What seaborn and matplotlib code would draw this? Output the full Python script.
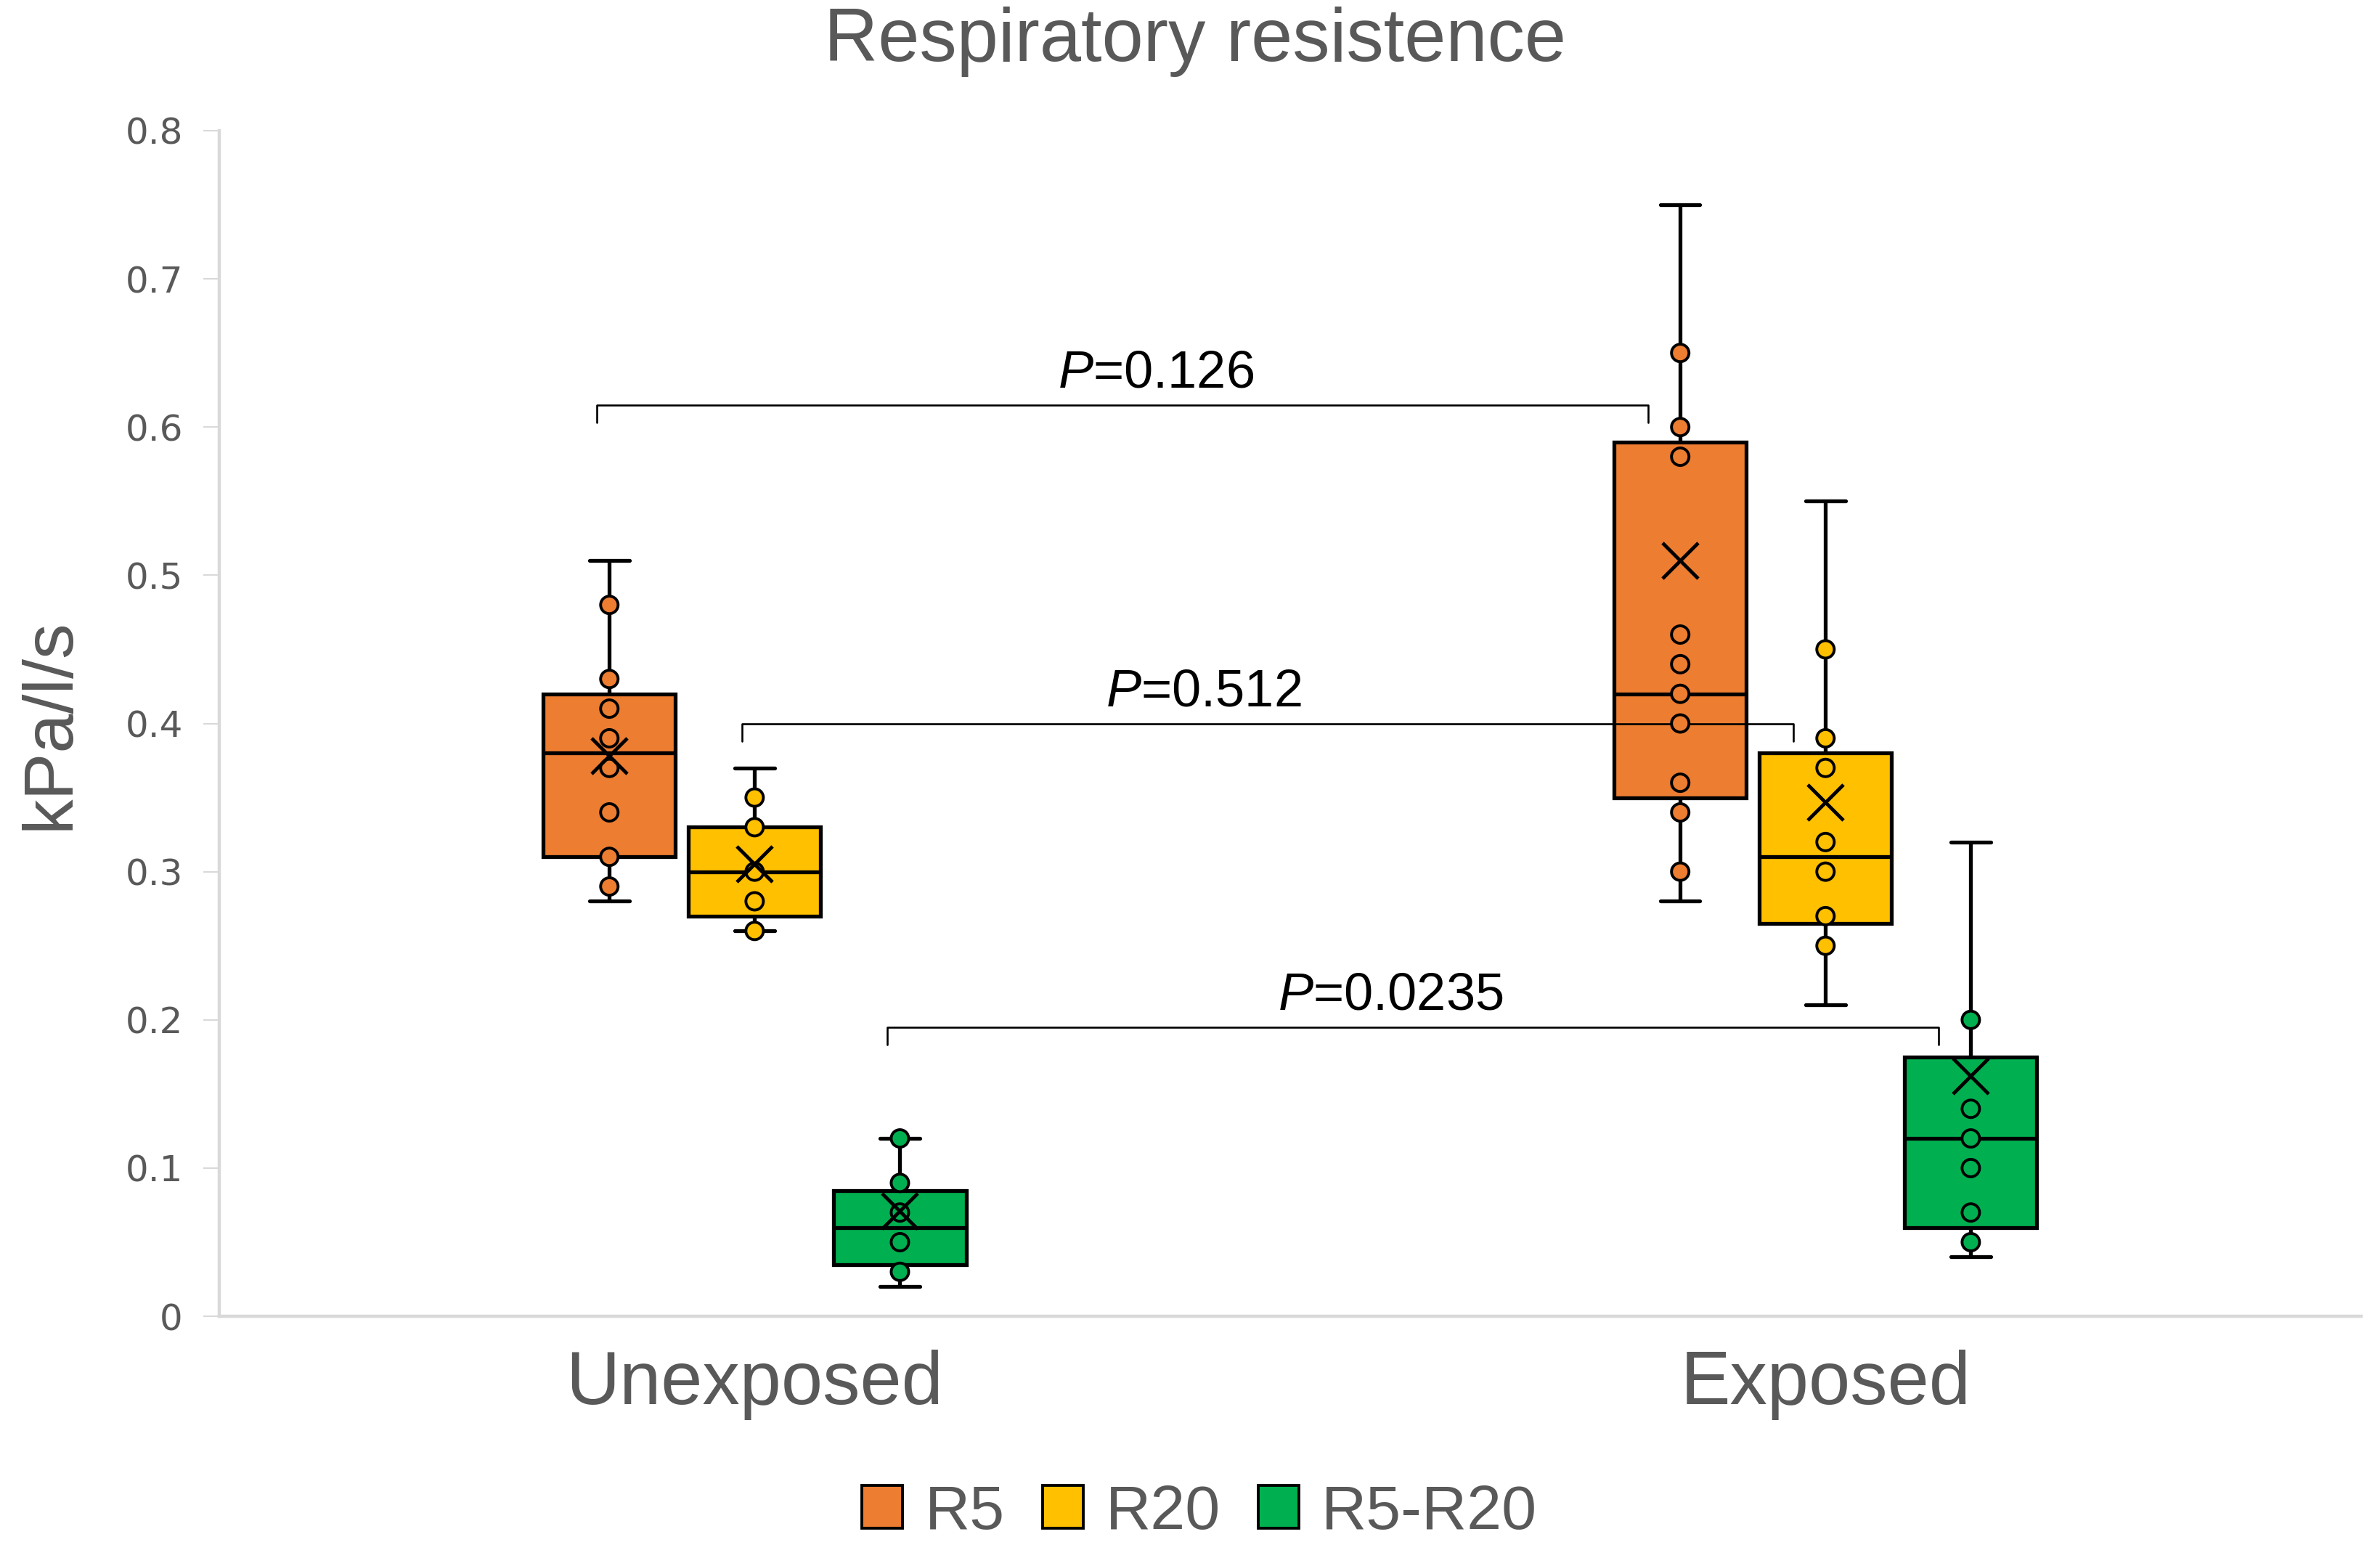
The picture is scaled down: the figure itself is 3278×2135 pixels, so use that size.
import numpy as np
import pandas as pd
import seaborn as sns
import matplotlib.pyplot as plt
from matplotlib.patches import Patch

groups = ["Unexposed", "Exposed"]
series = ["R5", "R20", "R5-R20"]
colors = ["#ED7D31", "#FFC000", "#00B050"]

# box summaries, order:
# Unexposed R5, R20, R5-R20, Exposed R5, R20, R5-R20
box_group = ["Unexposed"] * 3 + ["Exposed"] * 3
box_series = series * 2
whisker_low = [0.28, 0.26, 0.02, 0.28, 0.21, 0.04]
quart_1 = [0.31, 0.27, 0.035, 0.35, 0.265, 0.06]
medians = [0.38, 0.30, 0.06, 0.42, 0.31, 0.12]
quart_3 = [0.42, 0.33, 0.085, 0.59, 0.38, 0.175]
whisker_high = [0.51, 0.37, 0.12, 0.75, 0.55, 0.32]
means = [0.378, 0.305, 0.071, 0.51, 0.347, 0.162]

# inner points shown on each box
pts_unexp_r5 = [0.29, 0.31, 0.34, 0.37, 0.39, 0.41, 0.43, 0.48]
pts_unexp_r20 = [0.26, 0.28, 0.30, 0.33, 0.35]
pts_unexp_diff = [0.03, 0.05, 0.07, 0.09, 0.12]
pts_exp_r5 = [0.30, 0.34, 0.36, 0.40, 0.42, 0.44, 0.46, 0.58, 0.60, 0.65]
pts_exp_r20 = [0.25, 0.27, 0.30, 0.32, 0.37, 0.39, 0.45]
pts_exp_diff = [0.05, 0.07, 0.10, 0.12, 0.14, 0.20]
inner_points = [pts_unexp_r5, pts_unexp_r20, pts_unexp_diff,
                pts_exp_r5, pts_exp_r20, pts_exp_diff]

ytick_vals = [0, 0.1, 0.2, 0.3, 0.4, 0.5, 0.6, 0.7, 0.8]
ytick_labels = ["0", "0.1", "0.2", "0.3", "0.4", "0.5", "0.6", "0.7", "0.8"]

# significance brackets (unexposed vs exposed, same series)
p_series = ["R5", "R20", "R5-R20"]
p_values = ["0.126", "0.512", "0.0235"]
bracket_y = [0.615, 0.40, 0.195]
p_label_x = [0.375, 0.419, 0.594]

GRAY = "#595959"
sns.set_style("white")
plt.rcParams["font.family"] = ["Liberation Sans", "DejaVu Sans"]
plt.rcParams["mathtext.fontset"] = "custom"
plt.rcParams["mathtext.it"] = "Liberation Sans:italic"
plt.rcParams["mathtext.rm"] = "Liberation Sans"

fig, ax = plt.subplots(figsize=(32.78, 21.35), dpi=100)
ax.set_position([0.0921, 0.1508, 0.8999, 0.7649])

box_width = 0.407
slot = box_width / len(series)


def xpos(group, ser):
    return groups.index(group) + (series.index(ser) - 1) * slot


box_df = pd.DataFrame({
    "group": np.repeat(box_group, 5),
    "series": np.repeat(box_series, 5),
    "value": np.column_stack([whisker_low, quart_1, medians,
                              quart_3, whisker_high]).ravel(),
})

sns.boxplot(data=box_df, x="group", y="value", hue="series", order=groups,
            hue_order=series, palette=colors, saturation=1, width=box_width,
            gap=0.09, whis=(0, 100), linecolor="black", linewidth=3.8,
            showfliers=False, legend=False, capwidths=0.037, ax=ax)

rows = []
for g, s, pts in zip(box_group, box_series, inner_points):
    for v in pts:
        rows.append({"series": s, "x": xpos(g, s), "value": v})
pts_df = pd.DataFrame(rows)

sns.scatterplot(data=pts_df, x="x", y="value", hue="series", hue_order=series,
                palette=colors, s=300, edgecolor="black", linewidth=2.8,
                legend=False, zorder=3, ax=ax)

mean_df = pd.DataFrame({
    "x": [xpos(g, s) for g, s in zip(box_group, box_series)],
    "value": means,
})
sns.scatterplot(data=mean_df, x="x", y="value", marker="x", color="black",
                s=1250, linewidth=3.5, legend=False, zorder=4, ax=ax)

# brackets
drop = 0.012
for s, p, y, lx in zip(p_series, p_values, bracket_y, p_label_x):
    x1 = xpos("Unexposed", s) - 0.012
    x2 = xpos("Exposed", s) - 0.03
    ax.plot([x1, x1, x2, x2], [y - drop, y, y, y - drop], color="black",
            lw=1.9, solid_joinstyle="round", zorder=2)
    ax.text(lx, y + 0.012, r"$\mathit{P}$=" + p, ha="center", va="baseline",
            fontsize=52, color="black")

ax.set_xlim(-0.5, 1.5)
ax.set_ylim(0, 0.8)
ax.set_xticks([0, 1])
ax.set_xticklabels(groups)
ax.set_yticks(ytick_vals)
ax.set_yticklabels(ytick_labels, family="DejaVu Sans")
ax.tick_params(axis="x", length=0, pad=33, labelsize=74, labelcolor=GRAY)
ax.tick_params(axis="y", length=16, width=1.5, color="#d9d9d9", pad=20,
               labelsize=36, labelcolor=GRAY, left=True)
ax.set_xlabel("")
ax.set_ylabel("kPa/l/s", fontsize=70, color=GRAY)
ax.yaxis.set_label_coords(-0.0634, 0.4997)

sns.despine(ax=ax)
for side in ["left", "bottom"]:
    ax.spines[side].set_color("#d9d9d9")
    ax.spines[side].set_linewidth(3.2)

fig.text(0.502, 0.973, "Respiratory resistence", ha="center", va="center",
         fontsize=74, color=GRAY)

handles = [Patch(facecolor=c, edgecolor="black", linewidth=2.8, label=s)
           for s, c in zip(series, colors)]
fig.legend(handles=handles, loc="center", bbox_to_anchor=(0.504, 0.024),
           ncol=3, frameon=False, fontsize=62, handlelength=0.65,
           handleheight=0.69, handletextpad=0.36, columnspacing=0.6,
           labelcolor=GRAY)

fig.savefig("out.png", dpi=100)
